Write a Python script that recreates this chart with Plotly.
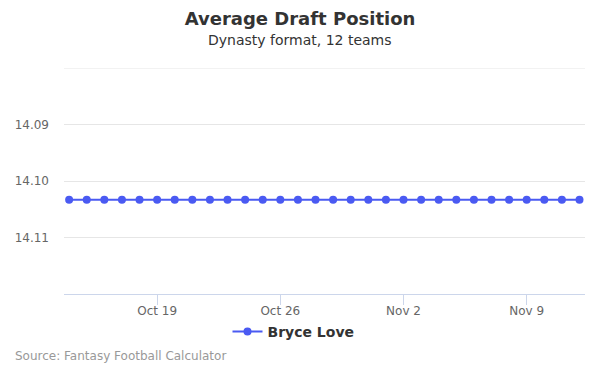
import plotly.graph_objects as go
import pandas as pd

# Data
dates = pd.date_range("2019-10-14", "2019-11-12", freq="D").strftime("%Y-%m-%d").tolist()
adp = [14.1033] * 30
series_name = "Bryce Love"
x_tick_vals = ["2019-10-19", "2019-10-26", "2019-11-02", "2019-11-09"]
x_tick_text = ["Oct 19", "Oct 26", "Nov 2", "Nov 9"]
y_tick_vals = [14.08, 14.09, 14.10, 14.11, 14.12]
y_tick_text = ["", "14.09", "14.10", "14.11", ""]

color = "#4a5af2"
font_family = "DejaVu Sans, Verdana, sans-serif"

fig = go.Figure()
fig.add_trace(go.Scatter(
    x=dates, y=adp, mode="lines+markers", name=series_name,
    line=dict(color=color, width=2),
    marker=dict(color=color, size=8),
))

fig.update_layout(
    width=600, height=375,
    margin=dict(l=64, r=15, t=68, b=81),
    paper_bgcolor="white", plot_bgcolor="white",
    font=dict(family=font_family, color="#333333"),
    title=dict(text="<b>Average Draft Position</b>", x=0.5, xanchor="center",
               y=1 - 19 / 375, yanchor="middle",
               font=dict(size=18, color="#333333", family=font_family)),
    showlegend=True,
    legend=dict(orientation="h", x=0.4405, xanchor="center", y=-0.168, yanchor="middle",
                bgcolor="rgba(0,0,0,0)",
                font=dict(size=14, color="#333333", weight="bold", family=font_family),
                itemwidth=30),
    xaxis=dict(
        type="date",
        range=["2019-10-13 17:00", "2019-11-12 07:30"],
        tickvals=x_tick_vals, ticktext=x_tick_text,
        showgrid=False, zeroline=False,
        showline=True, linecolor="#ccd6eb", linewidth=1,
        ticks="outside", ticklen=10, tickcolor="#ccd6eb", tickwidth=1,
        ticklabelstandoff=-4,
        tickfont=dict(size=12, color="#666666", family=font_family),
        fixedrange=True,
    ),
    yaxis=dict(
        range=[14.12, 14.08],
        tickvals=y_tick_vals, ticktext=y_tick_text,
        showgrid=True, gridcolor="#e6e6e6", gridwidth=1,
        zeroline=False, showline=False,
        ticks="", ticklabelstandoff=14,
        tickfont=dict(size=12, color="#666666", family=font_family),
        fixedrange=True,
    ),
    shapes=[
        dict(type="line", xref="paper", yref="y", x0=0, x1=1, y0=14.08, y1=14.08,
             line=dict(color="#e6e6e6", width=1), layer="below"),
    ],
    annotations=[
        dict(text="Dynasty format, 12 teams", xref="paper", yref="paper",
             x=(300 - 64) / 521, xanchor="center", y=1 + 28 / 226, yanchor="middle",
             showarrow=False, font=dict(size=14, color="#333333", family=font_family)),
        dict(text="Source: Fantasy Football Calculator", xref="paper", yref="paper",
             x=(13 - 64) / 521, xanchor="left", y=(294 - 356) / 226, yanchor="middle",
             showarrow=False, font=dict(size=12, color="#999999", family=font_family)),
    ],
)

fig.write_html("out.html", config={"displayModeBar": False},
               post_script="document.body.style.margin='0';")
